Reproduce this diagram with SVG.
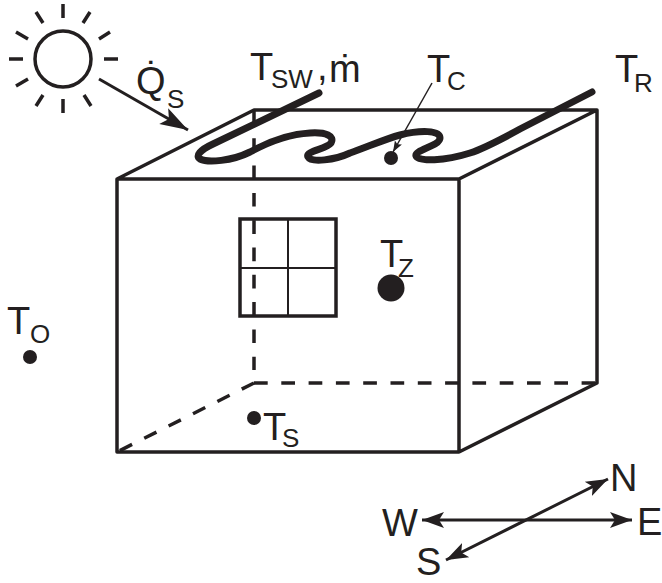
<svg xmlns="http://www.w3.org/2000/svg" width="662" height="583" viewBox="0 0 662 583">
<style>
text{font-family:"Liberation Sans",Arial,sans-serif;fill:#231f20;font-size:38px}
.s{font-size:26px}
.l{fill:none;stroke:#231f20;stroke-width:3.5px}
.d{fill:none;stroke:#231f20;stroke-width:3.5px;stroke-dasharray:13.7 13.6}
.t{fill:none;stroke:#231f20;stroke-width:2px}
.a{fill:none;stroke:#231f20;stroke-width:3px;marker-end:url(#h);marker-start:url(#hs)}
.r{fill:none;stroke:#231f20;stroke-width:3.5px}
</style>
<defs>
<marker id="h" markerUnits="userSpaceOnUse" markerWidth="24" markerHeight="20" refX="22" refY="10" orient="auto"><path d="M0 2L22 10L0 18L5 10Z" fill="#231f20"/></marker>
<marker id="hs" markerUnits="userSpaceOnUse" markerWidth="24" markerHeight="20" refX="2" refY="10" orient="auto"><path d="M24 2L2 10L24 18L19 10Z" fill="#231f20"/></marker>
<marker id="hh" markerUnits="userSpaceOnUse" markerWidth="30" markerHeight="24" refX="28" refY="12" orient="auto"><path d="M0 3L28 12L0 21L6 12Z" fill="#231f20"/></marker>
<marker id="hc" markerUnits="userSpaceOnUse" markerWidth="12" markerHeight="10" refX="11" refY="5" orient="auto"><path d="M0 1L11 5L0 9L2 5Z" fill="#231f20"/></marker>
</defs>
<g id="sun">
<circle class="l" cx="63" cy="59" r="28"/>
<path class="r" d="M63 4V18M63 99V113M9 59H23M104 59H118M36 12L43 23M90 12L83 23M16 32L28 39M110 32L99 39M16 86L28 79M36 106L43 95M84 95L91 106"/>
</g>
<g id="box">
<path class="l" stroke-linejoin="round" d="M117 452V179H459V452ZM117 179L254 110H597V383L459 452M459 179L597 110"/>
</g>
<g id="window">
<rect class="l" x="240" y="219" width="96" height="97"/>
<path class="t" d="M288 219V316M240 268H336"/>
</g>
<g id="hidden-edges">
<path class="d" d="M254 111V370"/>
<path class="d" d="M254 383H597"/>
<path class="d" d="M254 383L117 452"/>
</g>
<g id="pipe">
<path d="M319 93L213 144C200 150 195 156 200 159C208 163 232 161 250 152C270 141 290 134 310 133C326 132 335 136 331 143C327 149 305 151 308 157C311 163 335 160 350 153C365 148 385 139 400 135C420 130 440 130 440 138C440 146 414 150 416 156C418 162 445 161 470 153C485 148 500 140 520 129L592 92" fill="none" stroke="#231f20" stroke-width="7" stroke-linecap="round"/>
</g>
<g id="connectors">
<path fill="none" stroke="#231f20" stroke-width="3" marker-end="url(#hh)" d="M99 79L188 130"/>
<path fill="none" stroke="#231f20" stroke-width="1.5" marker-end="url(#hc)" d="M432 83L393 152"/>
<path class="a" d="M422 520H632"/>
<path class="a" d="M446 560L608 479"/>
</g>
<g id="dots">
<circle cx="391" cy="158" r="7" fill="#231f20"/>
<circle cx="391" cy="288" r="13.5" fill="#231f20"/>
<circle cx="30" cy="357" r="7" fill="#231f20"/>
<circle cx="254" cy="418" r="7" fill="#231f20"/>
</g>
<g id="labels">
<text x="136" y="94">Q̇<tspan class="s" x="167" y="108">S</tspan></text>
<text x="250" y="80">T<tspan class="s" x="271" y="88">SW</tspan><tspan x="317" y="80">,</tspan><tspan x="329" y="82">ṁ</tspan></text>
<text x="427" y="82">T<tspan class="s" x="447" y="90">C</tspan></text>
<text x="615" y="82">T<tspan class="s" x="634" y="92">R</tspan></text>
<text x="380" y="267">T<tspan class="s" x="398" y="277">Z</tspan></text>
<text x="7" y="334">T<tspan class="s" x="30" y="343">O</tspan></text>
<text x="263" y="440">T<tspan class="s" x="282" y="447">S</tspan></text>
<text x="382" y="536">W</text>
<text x="637" y="535">E</text>
<text x="610" y="491">N</text>
<text x="416" y="575">S</text>
</g>
</svg>
